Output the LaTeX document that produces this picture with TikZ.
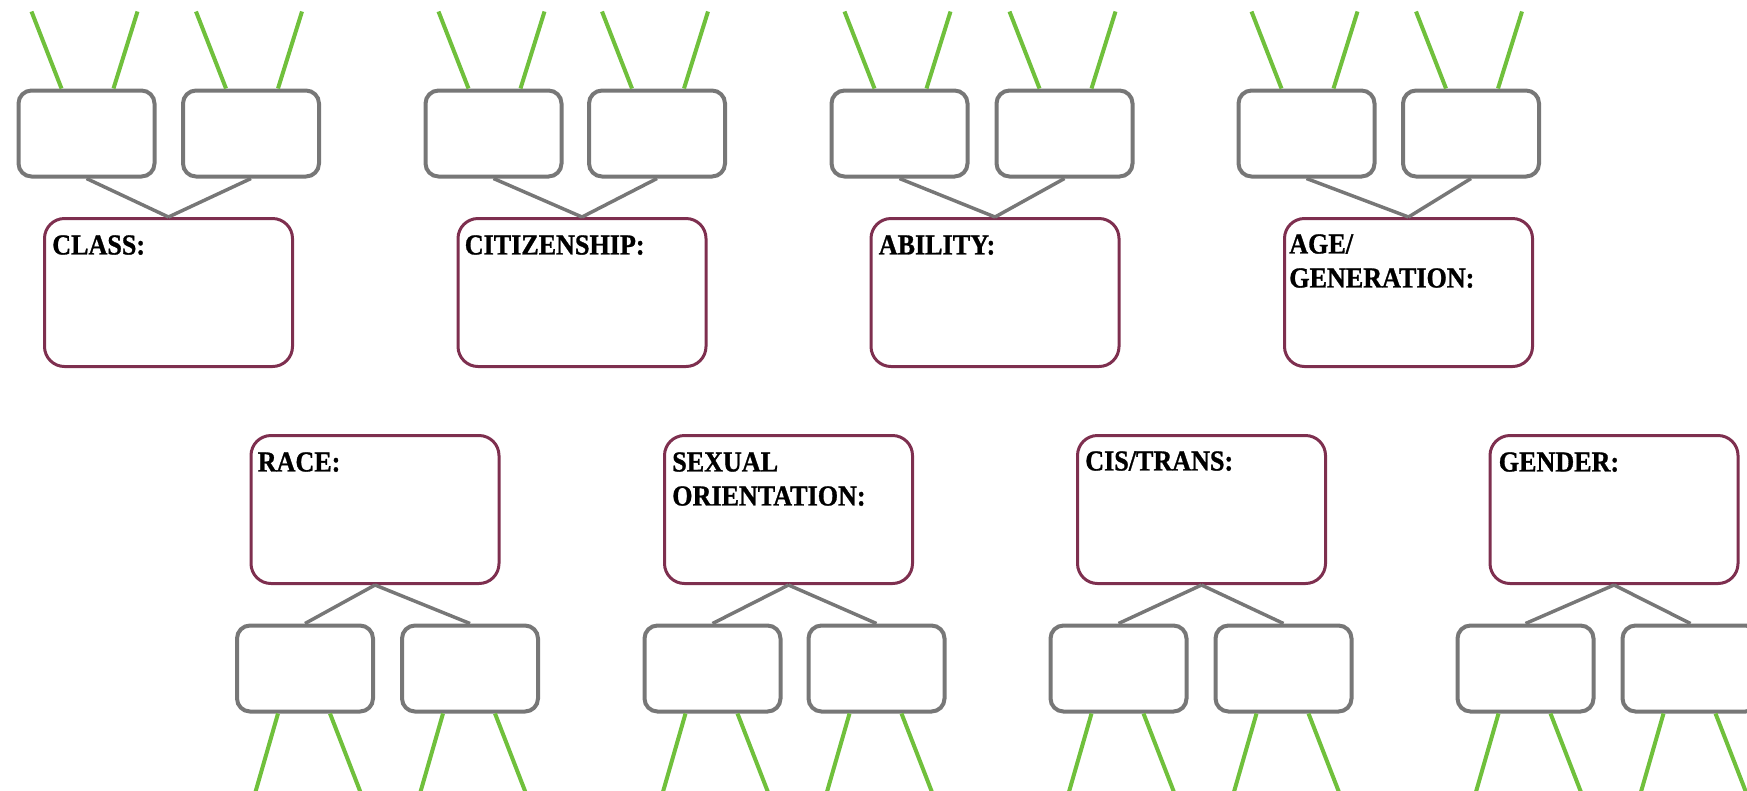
\documentclass[tikz,border=0pt]{standalone}
\usepackage{fontspec}
\newfontfamily\tagfont[FakeStretch=0.9,BoldFeatures={FakeBold=1}]{Liberation Serif}
\usetikzlibrary{calc}

\definecolor{boxgray}{RGB}{119,119,119}
\definecolor{plum}{RGB}{126,47,79}
\definecolor{leaf}{RGB}{112,192,60}

\tikzset{
  mainbox/.style={draw=plum, line width=2.25pt, rounded corners=15pt,
    minimum width=186pt, minimum height=111pt, inner sep=0pt},
  subbox/.style={draw=boxgray, line width=3pt, rounded corners=9.75pt,
    minimum width=102pt, minimum height=64.5pt, inner sep=0pt},
  link/.style={draw=boxgray, line width=2.6pt},
  twig/.style={draw=leaf, line width=3pt},
  tag/.style={anchor=north west, inner sep=0pt, align=left,
    font=\tagfont\bfseries\fontsize{21.75pt}{25.5pt}\selectfont}
}

\begin{document}
\begin{tikzpicture}[x=0.75pt,y=0.75pt,yscale=-1,xscale=1]
\useasboundingbox (0,0) rectangle (1747,790);
\clip (0,0) rectangle (1747,790);

%%% upper row
% Class
\node[subbox] (class1) at (86.5,133.5) {};
\node[subbox] (class2) at (251,133.5) {};
\node[mainbox] (class) at (168.5,292.5) {};
\node[tag] (classtag) at ($(class.north west)+(9,18)$) {CLASS:};
\draw[link] (class1.south) -- (class.north);
\draw[link] (class2.south) -- (class.north);
\draw[twig] ($(class1.north)+(-25,0)$) -- ++(-30,-77);
\draw[twig] ($(class1.north)+(27,0)$) -- ++(24,-77);
\draw[twig] ($(class2.north)+(-25,0)$) -- ++(-30,-77);
\draw[twig] ($(class2.north)+(27,0)$) -- ++(24,-77);

% Citizenship
\node[subbox] (citizen1) at (493.5,133.5) {};
\node[subbox] (citizen2) at (657,133.5) {};
\node[mainbox] (citizen) at (582,292.5) {};
\node[tag] (citizentag) at ($(citizen.north west)+(8,18)$) {CITIZENSHIP:};
\draw[link] (citizen1.south) -- (citizen.north);
\draw[link] (citizen2.south) -- (citizen.north);
\draw[twig] ($(citizen1.north)+(-25,0)$) -- ++(-30,-77);
\draw[twig] ($(citizen1.north)+(27,0)$) -- ++(24,-77);
\draw[twig] ($(citizen2.north)+(-25,0)$) -- ++(-30,-77);
\draw[twig] ($(citizen2.north)+(27,0)$) -- ++(24,-77);

% Ability
\node[subbox] (ability1) at (899.5,133.5) {};
\node[subbox] (ability2) at (1064.5,133.5) {};
\node[mainbox] (ability) at (995,292.5) {};
\node[tag] (abilitytag) at ($(ability.north west)+(9,18)$) {ABILITY:};
\draw[link] (ability1.south) -- (ability.north);
\draw[link] (ability2.south) -- (ability.north);
\draw[twig] ($(ability1.north)+(-25,0)$) -- ++(-30,-77);
\draw[twig] ($(ability1.north)+(27,0)$) -- ++(24,-77);
\draw[twig] ($(ability2.north)+(-25,0)$) -- ++(-30,-77);
\draw[twig] ($(ability2.north)+(27,0)$) -- ++(24,-77);

% Age
\node[subbox] (age1) at (1306.5,133.5) {};
\node[subbox] (age2) at (1471,133.5) {};
\node[mainbox] (age) at (1408.5,292.5) {};
\node[tag] (agetag) at ($(age.north west)+(6,17)$) {AGE/\\GENERATION:};
\draw[link] (age1.south) -- (age.north);
\draw[link] (age2.south) -- (age.north);
\draw[twig] ($(age1.north)+(-25,0)$) -- ++(-30,-77);
\draw[twig] ($(age1.north)+(27,0)$) -- ++(24,-77);
\draw[twig] ($(age2.north)+(-25,0)$) -- ++(-30,-77);
\draw[twig] ($(age2.north)+(27,0)$) -- ++(24,-77);

%%% lower row
% Race
\node[mainbox] (race) at (375,509.5) {};
\node[subbox] (race1) at (305,668.5) {};
\node[subbox] (race2) at (470,668.5) {};
\node[tag] (racetag) at ($(race.north west)+(8,18)$) {RACE:};
\draw[link] (race.south) -- (race1.north);
\draw[link] (race.south) -- (race2.north);
\draw[twig] ($(race1.south)+(-27,0)$) -- ++(-23,80);
\draw[twig] ($(race1.south)+(25,0)$) -- ++(31,80);
\draw[twig] ($(race2.south)+(-27,0)$) -- ++(-23,80);
\draw[twig] ($(race2.south)+(25,0)$) -- ++(31,80);

% Sexual orientation
\node[mainbox] (sexual) at (788.5,509.5) {};
\node[subbox] (sexual1) at (712.5,668.5) {};
\node[subbox] (sexual2) at (876.5,668.5) {};
\node[tag] (sexualtag) at ($(sexual.north west)+(9,18)$) {SEXUAL\\ORIENTATION:};
\draw[link] (sexual.south) -- (sexual1.north);
\draw[link] (sexual.south) -- (sexual2.north);
\draw[twig] ($(sexual1.south)+(-27,0)$) -- ++(-23,80);
\draw[twig] ($(sexual1.south)+(25,0)$) -- ++(31,80);
\draw[twig] ($(sexual2.south)+(-27,0)$) -- ++(-23,80);
\draw[twig] ($(sexual2.south)+(25,0)$) -- ++(31,80);

% Cis/trans
\node[mainbox] (cistrans) at (1201.5,509.5) {};
\node[subbox] (cistrans1) at (1118.5,668.5) {};
\node[subbox] (cistrans2) at (1283.5,668.5) {};
\node[tag] (cistranstag) at ($(cistrans.north west)+(9,17)$) {CIS/TRANS:};
\draw[link] (cistrans.south) -- (cistrans1.north);
\draw[link] (cistrans.south) -- (cistrans2.north);
\draw[twig] ($(cistrans1.south)+(-27,0)$) -- ++(-23,80);
\draw[twig] ($(cistrans1.south)+(25,0)$) -- ++(31,80);
\draw[twig] ($(cistrans2.south)+(-27,0)$) -- ++(-23,80);
\draw[twig] ($(cistrans2.south)+(25,0)$) -- ++(31,80);

% Gender
\node[mainbox] (gender) at (1614,509.5) {};
\node[subbox] (gender1) at (1525.5,668.5) {};
\node[subbox] (gender2) at (1690.5,668.5) {};
\node[tag] (gendertag) at ($(gender.north west)+(10,18)$) {GENDER:};
\draw[link] (gender.south) -- (gender1.north);
\draw[link] (gender.south) -- (gender2.north);
\draw[twig] ($(gender1.south)+(-27,0)$) -- ++(-23,80);
\draw[twig] ($(gender1.south)+(25,0)$) -- ++(31,80);
\draw[twig] ($(gender2.south)+(-27,0)$) -- ++(-23,80);
\draw[twig] ($(gender2.south)+(25,0)$) -- ++(31,80);

\end{tikzpicture}
\end{document}
